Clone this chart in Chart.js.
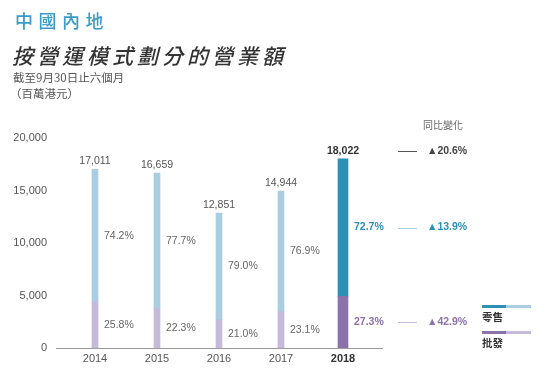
<!DOCTYPE html>
<html>
<head>
<meta charset="utf-8">
<script src="https://cdn.jsdelivr.net/npm/chart.js@4"></script>
<style>
  body { margin: 0; background: #fff; }
  #wrap { position: relative; width: 550px; height: 374px; }
  #chart { position: absolute; left: 0; top: 0; }
  .t { position: absolute; white-space: nowrap; line-height: 1; font-family: "Noto Sans CJK TC", sans-serif; }
  #t1 { left: 15px; top: 11px; font-size: 18px; color: #3a9cc6; letter-spacing: 5.5px; font-weight: 500; }
  #t2 { left: 12px; top: 45px; font-size: 21px; color: #333; letter-spacing: 4px; font-style: italic; font-weight: 500; }
  #t3 { left: 13px; top: 72px; font-size: 11.5px; color: #555; }
  #t4 { left: 10px; top: 88px; font-size: 11.5px; color: #555; }
</style>
</head>
<body>
<div id="wrap">
  <canvas id="chart" width="550" height="374"></canvas>
  <div class="t" id="t1">中國內地</div>
  <div class="t" id="t2">按營運模式劃分的營業額</div>
  <div class="t" id="t3">截至9月30日止六個月</div>
  <div class="t" id="t4">（百萬港元）</div>
</div>
<script>
// Data (HK$ million)
const years = ['2014', '2015', '2016', '2017', '2018'];
const totals = [17011, 16659, 12851, 14944, 18022];
const retailValues = [12622, 12944, 10152, 11492, 13102];
const wholesaleValues = [4389, 3715, 2699, 3452, 4920];
const retailShare = ['74.2%', '77.7%', '79.0%', '76.9%', '72.7%'];
const wholesaleShare = ['25.8%', '22.3%', '21.0%', '23.1%', '27.3%'];
const yoyLabels = ['▲20.6%', '▲13.9%', '▲42.9%'];
const yTicks = [0, 5000, 10000, 15000, 20000];
const legendNames = ['零售', '批發'];

const lightBlue = '#a9cde1';
const lightPurple = '#c6badb';
const teal = '#2b90b4';
const purple = '#8b72a9';
const numFont = '"Liberation Sans", Arial, sans-serif';
const cjkFont = '"Noto Sans CJK TC", sans-serif';
const last = years.length - 1;

// split the last year off so it can be drawn wider and darker
const past = arr => arr.map((v, i) => i < last ? v : null);
const latest = arr => arr.map((v, i) => i === last ? v : null);

const labelsPlugin = {
    id: 'labels',
    afterDatasetsDraw(chart) {
        const ctx = chart.ctx;
        const x = chart.scales.x;
        const y = chart.scales.y;
        ctx.save();
        ctx.textBaseline = 'middle';

        years.forEach((yr, i) => {
            const cx = x.getPixelForValue(i);
            const half = i === last ? 5 : 3;
            const topY = y.getPixelForValue(totals[i]);
            const splitY = y.getPixelForValue(wholesaleValues[i]);
            const baseY = y.getPixelForValue(0);
            const bold = i === last ? 'bold ' : '';

            ctx.textAlign = 'center';
            ctx.fillStyle = i === last ? '#333' : '#555';
            ctx.font = bold + '10.5px ' + numFont;
            ctx.fillText(totals[i].toLocaleString('en-US'), cx, topY - 8);

            ctx.textAlign = 'left';
            ctx.fillStyle = i === last ? teal : '#666';
            ctx.fillText(retailShare[i], cx + half + 6, (topY + splitY) / 2);
            ctx.fillStyle = i === last ? purple : '#666';
            ctx.fillText(wholesaleShare[i], cx + half + 6, (splitY + baseY) / 2);
        });

        // year-on-year column
        const lx0 = 398, lx1 = 417, tx = 427;
        const rows = [
            { y: y.getPixelForValue(totals[last]) - 8, line: '#555', text: '#444' },
            { y: (y.getPixelForValue(totals[last]) + y.getPixelForValue(wholesaleValues[last])) / 2, line: lightBlue, text: teal },
            { y: (y.getPixelForValue(wholesaleValues[last]) + y.getPixelForValue(0)) / 2, line: lightPurple, text: purple }
        ];
        ctx.font = '10px ' + cjkFont;
        ctx.fillStyle = '#666';
        ctx.fillText('同比變化', 423, 125);
        rows.forEach((r, k) => {
            ctx.strokeStyle = r.line;
            ctx.lineWidth = 1;
            ctx.beginPath();
            ctx.moveTo(lx0, Math.round(r.y) + 0.5);
            ctx.lineTo(lx1, Math.round(r.y) + 0.5);
            ctx.stroke();
            ctx.fillStyle = r.text;
            ctx.font = 'bold 10.5px ' + numFont;
            ctx.fillText(yoyLabels[k], tx, r.y);
        });

        // legend
        const legend = [[teal, lightBlue, 305], [purple, lightPurple, 331]];
        legend.forEach(([dark, light, ly], k) => {
            ctx.fillStyle = dark;
            ctx.fillRect(482, ly, 24, 3);
            ctx.fillStyle = light;
            ctx.fillRect(506, ly, 25, 3);
            ctx.fillStyle = '#333';
            ctx.font = 'bold 10.5px ' + cjkFont;
            ctx.fillText(legendNames[k], 482, ly + 12);
        });

        // x axis line, a bit wider than the plot area
        const by = Math.round(y.getPixelForValue(0)) + 0.5;
        ctx.strokeStyle = '#9a9a9a';
        ctx.beginPath();
        ctx.moveTo(56, by);
        ctx.lineTo(383, by);
        ctx.stroke();
        ctx.restore();
    }
};

new Chart(document.getElementById('chart'), {
    type: 'bar',
    data: {
        labels: years,
        datasets: [
            { data: past(wholesaleValues), backgroundColor: lightPurple, barThickness: 6, stack: 's' },
            { data: past(retailValues), backgroundColor: lightBlue, barThickness: 6, stack: 's' },
            { data: latest(wholesaleValues), backgroundColor: purple, barThickness: 10, stack: 's' },
            { data: latest(retailValues), backgroundColor: teal, barThickness: 10, stack: 's' }
        ]
    },
    options: {
        responsive: false,
        animation: false,
        layout: { padding: { top: 138, right: 176, left: 0, bottom: 0 } },
        plugins: { legend: { display: false }, tooltip: { enabled: false } },
        scales: {
            x: {
                stacked: true,
                grid: { display: false, drawTicks: false },
                border: { display: false },
                afterFit(scale) { scale.height = 26; },
                ticks: {
                    padding: 4,
                    color: ctx => ctx.index === last ? '#333' : '#555',
                    font: ctx => ({ family: numFont, size: 11, weight: ctx.index === last ? 'bold' : 'normal' })
                }
            },
            y: {
                stacked: true,
                min: 0,
                max: 20000,
                grid: { display: false, drawTicks: false },
                border: { display: false },
                afterFit(scale) { scale.width = 64; },
                afterBuildTicks(scale) { scale.ticks = yTicks.map(v => ({ value: v })); },
                ticks: {
                    padding: 17,
                    color: '#555',
                    font: { family: numFont, size: 11 },
                    callback: v => v.toLocaleString('en-US')
                }
            }
        }
    },
    plugins: [labelsPlugin]
});
</script>
</body>
</html>
